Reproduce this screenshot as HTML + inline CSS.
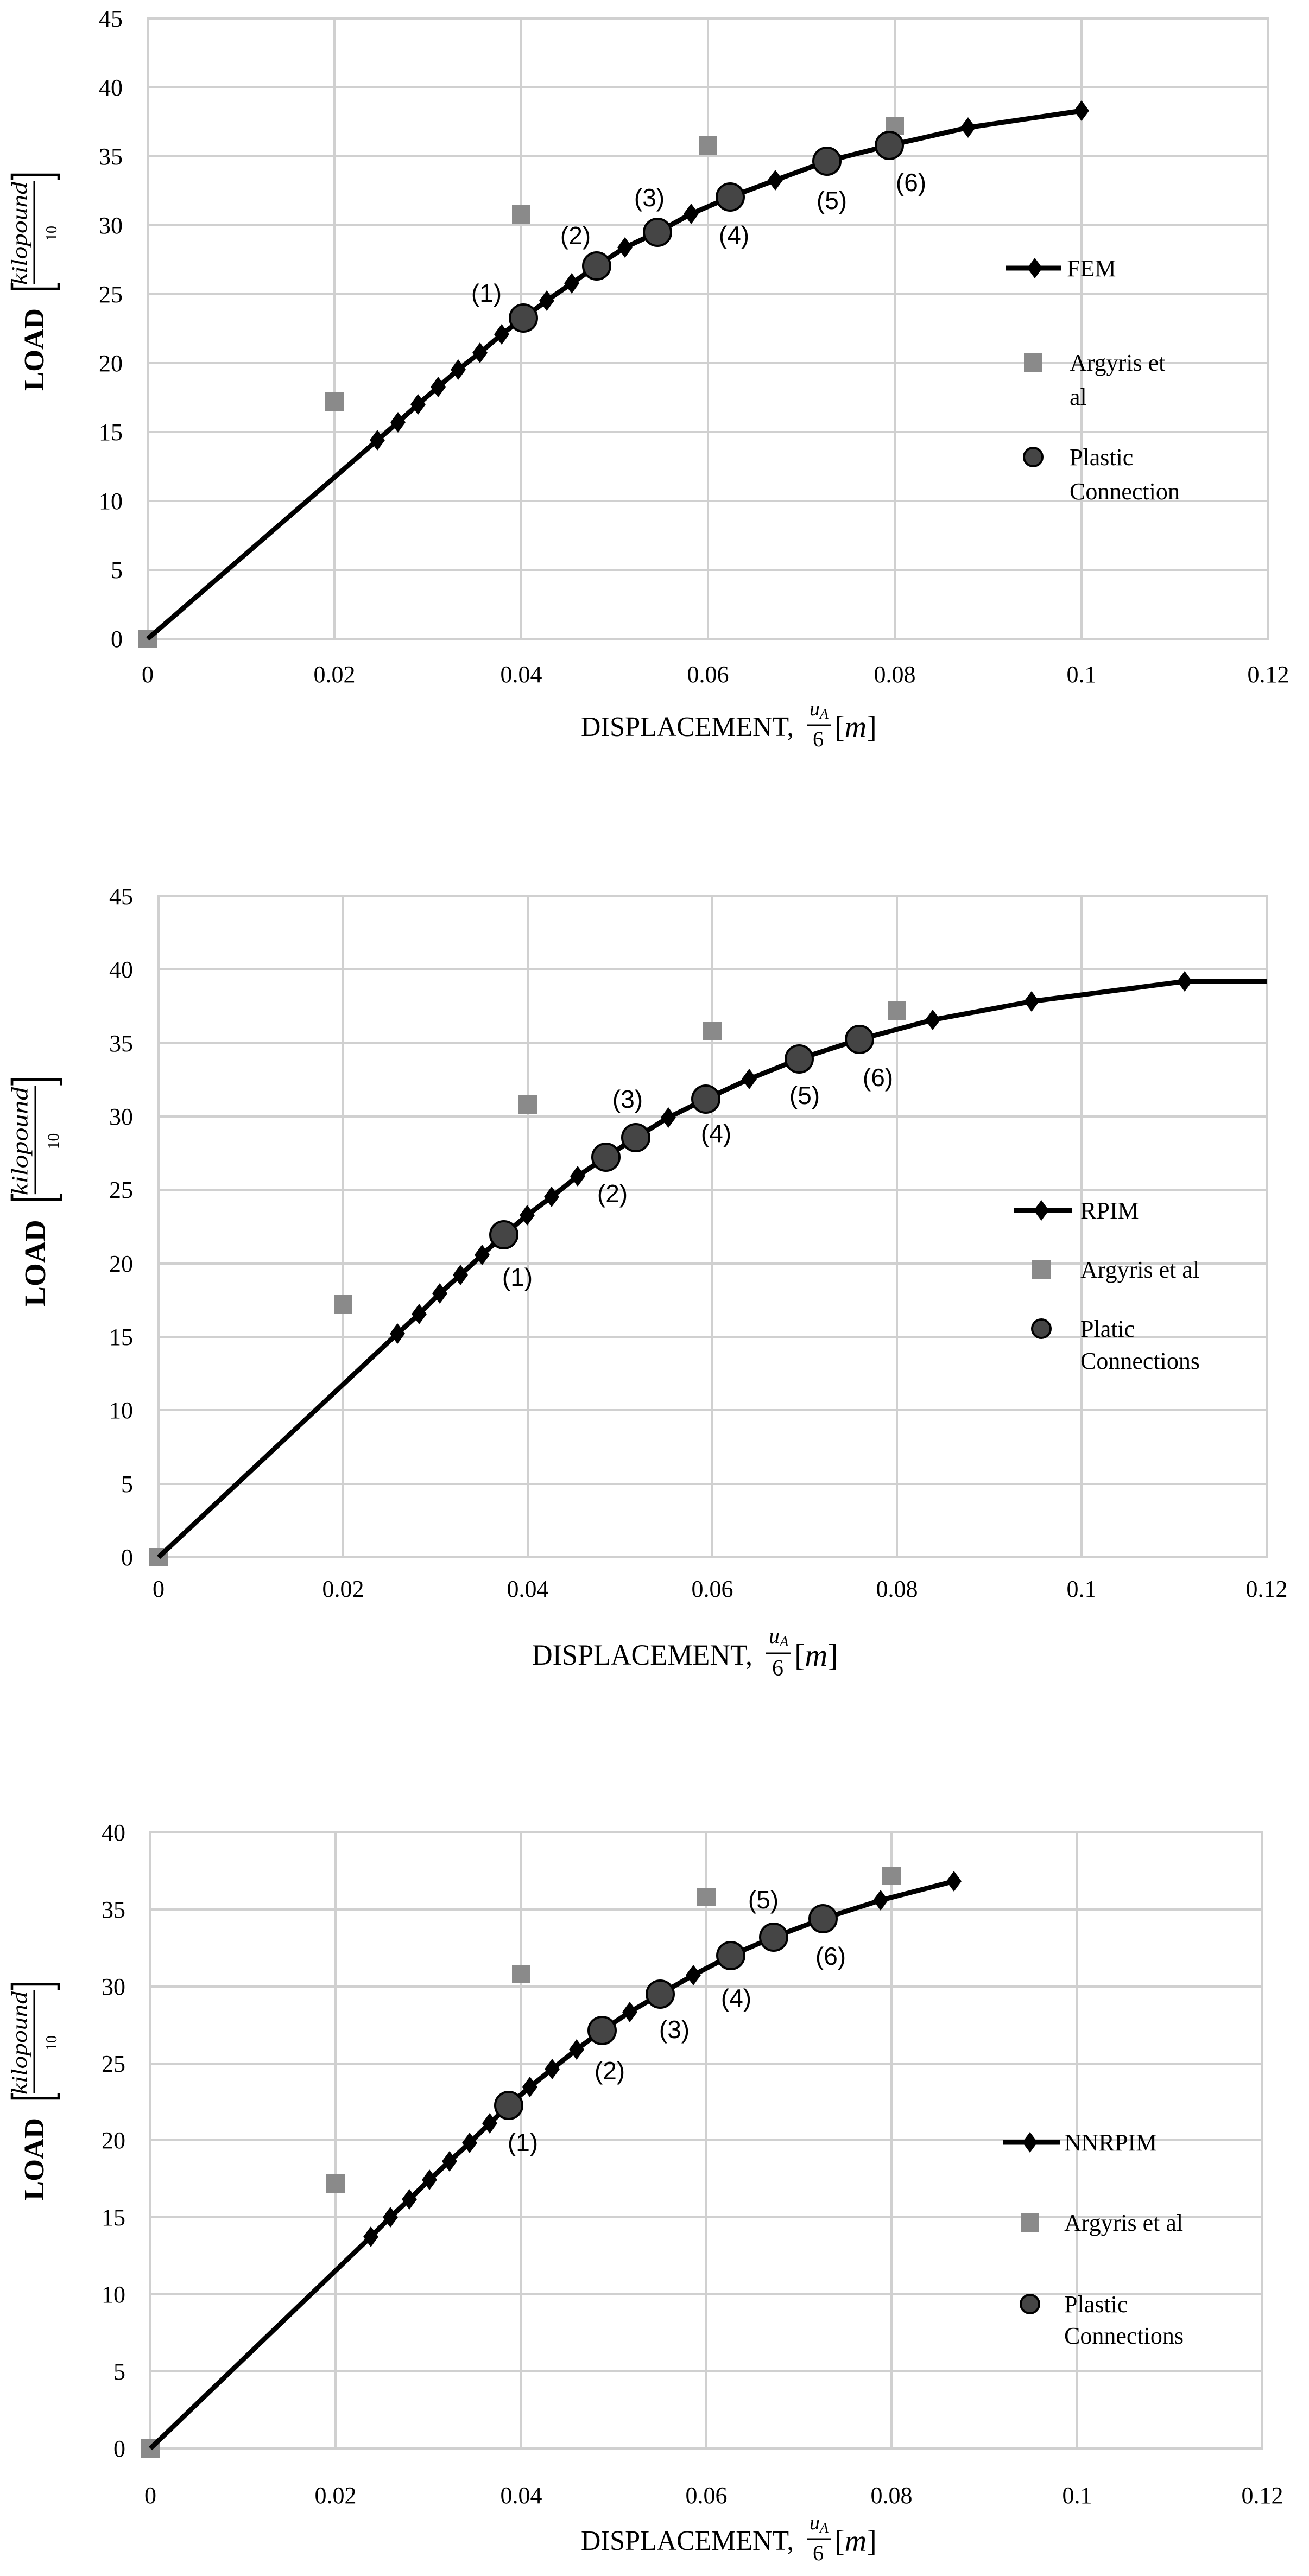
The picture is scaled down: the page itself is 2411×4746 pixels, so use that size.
<!DOCTYPE html>
<html><head><meta charset="utf-8"><style>
html,body{margin:0;padding:0;background:#fff;}
svg{display:block;}
.t{font-family:"Liberation Serif",serif;font-size:44px;fill:#000;}
.n{font-family:"Liberation Sans",sans-serif;font-size:46px;fill:#000;}
.g{stroke:#d0d0d0;stroke-width:4;fill:none;}
.s{stroke:#000;stroke-width:9;fill:none;stroke-linejoin:round;}
.c{fill:#454545;stroke:#000;stroke-width:4;}
.br{stroke:#000;stroke-width:4.5;fill:none;}
</style></head><body>
<svg width="2411" height="4746" viewBox="0 0 2411 4746" xmlns="http://www.w3.org/2000/svg">
<defs>
<path id="dm" d="M0,-19 L14,0 L0,19 L-14,0Z" fill="#000"/>
<rect id="sq" x="-17" y="-17" width="34" height="34" fill="#8a8a8a"/>
</defs>

<!-- ================= CHART 1 ================= -->
<g>
<g class="g">
<rect x="272" y="34" width="2064" height="1143"/>
<path d="M616,34V1177M960,34V1177M1304,34V1177M1648,34V1177M1992,34V1177"/>
<path d="M272,161H2336M272,288H2336M272,415H2336M272,542H2336M272,669H2336M272,796H2336M272,923H2336M272,1050H2336"/>
</g>
<g class="t" text-anchor="end">
<text x="226" y="49">45</text><text x="226" y="176">40</text><text x="226" y="303">35</text><text x="226" y="430">30</text><text x="226" y="557">25</text><text x="226" y="684">20</text><text x="226" y="811">15</text><text x="226" y="938">10</text><text x="226" y="1065">5</text><text x="226" y="1192">0</text>
</g>
<g class="t" text-anchor="middle">
<text x="272" y="1257">0</text><text x="616" y="1257">0.02</text><text x="960" y="1257">0.04</text><text x="1304" y="1257">0.06</text><text x="1648" y="1257">0.08</text><text x="1992" y="1257">0.1</text><text x="2336" y="1257">0.12</text>
</g>
<use href="#sq" x="272" y="1177"/><use href="#sq" x="616" y="740"/><use href="#sq" x="960" y="395"/><use href="#sq" x="1304" y="268"/><use href="#sq" x="1648" y="232"/>
<polyline class="s" points="272,1177 695,811 733,778 770,745 807,713 844,681 884,650 924,616 964,586 1007,554 1053,522 1099,490 1151,456 1211,428 1273,394 1345,363 1428,332 1523,297 1638,268 1783,235 1992,204"/>
<use href="#dm" x="695" y="811"/><use href="#dm" x="733" y="778"/><use href="#dm" x="770" y="745"/><use href="#dm" x="807" y="713"/><use href="#dm" x="844" y="681"/><use href="#dm" x="884" y="650"/><use href="#dm" x="924" y="616"/><use href="#dm" x="1007" y="554"/><use href="#dm" x="1053" y="522"/><use href="#dm" x="1151" y="456"/><use href="#dm" x="1273" y="394"/><use href="#dm" x="1428" y="332"/><use href="#dm" x="1783" y="235"/><use href="#dm" x="1992" y="204"/>
<circle class="c" cx="964" cy="586" r="25"/><circle class="c" cx="1099" cy="490" r="25"/><circle class="c" cx="1211" cy="428" r="25"/><circle class="c" cx="1345" cy="363" r="25"/><circle class="c" cx="1523" cy="297" r="25"/><circle class="c" cx="1638" cy="268" r="25"/>
<g class="n" text-anchor="middle">
<text x="896" y="556">(1)</text><text x="1060" y="450">(2)</text><text x="1196" y="380">(3)</text><text x="1352" y="449">(4)</text><text x="1532" y="385">(5)</text><text x="1678" y="352">(6)</text>
</g>
<line x1="1852" y1="494" x2="1955" y2="494" stroke="#000" stroke-width="9"/><use href="#dm" x="1906" y="494"/>
<text class="t" x="1965" y="509">FEM</text>
<use href="#sq" x="1903" y="668"/>
<text class="t" x="1970" y="683">Argyris et</text><text class="t" x="1970" y="746">al</text>
<circle class="c" cx="1903" cy="842" r="17"/>
<text class="t" x="1970" y="857">Plastic</text><text class="t" x="1970" y="920">Connection</text>
<g>
<text class="t" x="1070" y="1356" style="font-size:52px" textLength="392" lengthAdjust="spacingAndGlyphs">DISPLACEMENT,</text>
<text class="t" x="1491" y="1318" style="font-size:38px;font-style:italic">u<tspan style="font-size:26px" dy="6">A</tspan></text>
<line x1="1486" y1="1336" x2="1530" y2="1336" stroke="#000" stroke-width="3"/>
<text class="t" x="1497" y="1375" style="font-size:40px">6</text>
<text class="t" x="1537" y="1358" style="font-size:56px">[<tspan style="font-style:italic">m</tspan>]</text>
</g>
<g transform="translate(61,520) rotate(-90)">
<text class="t" x="-200" y="19" style="font-size:52px;font-weight:bold" textLength="152" lengthAdjust="spacingAndGlyphs">LOAD</text>
<path class="br" d="M-2,-39 H-12 V47 H-2 M188,-39 H198 V47 H188"/>
<text class="t" x="-5" y="-12" style="font-size:40px;font-style:italic" textLength="190" lengthAdjust="spacingAndGlyphs">kilopound</text>
<line x1="-3" y1="2" x2="187" y2="2" stroke="#000" stroke-width="3"/>
<text class="t" x="90" y="43" text-anchor="middle" style="font-size:28px">10</text>
</g>
</g>

<!-- ================= CHART 2 ================= -->
<g>
<g class="g">
<rect x="292" y="1651" width="2041" height="1218"/>
<path d="M632,1651V2869M972,1651V2869M1312,1651V2869M1652,1651V2869M1992,1651V2869"/>
<path d="M292,1786H2333M292,1922H2333M292,2057H2333M292,2192H2333M292,2328H2333M292,2463H2333M292,2598H2333M292,2734H2333"/>
</g>
<g class="t" text-anchor="end">
<text x="245" y="1666">45</text><text x="245" y="1801">40</text><text x="245" y="1937">35</text><text x="245" y="2072">30</text><text x="245" y="2207">25</text><text x="245" y="2343">20</text><text x="245" y="2478">15</text><text x="245" y="2613">10</text><text x="245" y="2749">5</text><text x="245" y="2884">0</text>
</g>
<g class="t" text-anchor="middle">
<text x="292" y="2942">0</text><text x="632" y="2942">0.02</text><text x="972" y="2942">0.04</text><text x="1312" y="2942">0.06</text><text x="1652" y="2942">0.08</text><text x="1992" y="2942">0.1</text><text x="2333" y="2942">0.12</text>
</g>
<use href="#sq" x="292" y="2869"/><use href="#sq" x="632" y="2403"/><use href="#sq" x="972" y="2035"/><use href="#sq" x="1312" y="1900"/><use href="#sq" x="1652" y="1862"/>
<polyline class="s" points="292,2869 732,2457 772,2421 810,2383 848,2349 888,2312 928,2275 971,2239 1016,2205 1064,2167 1116,2132 1171,2096 1231,2059 1300,2025 1380,1988 1472,1951 1583,1915 1718,1879 1900,1845 2182,1808 2333,1808"/>
<use href="#dm" x="732" y="2457"/><use href="#dm" x="772" y="2421"/><use href="#dm" x="810" y="2383"/><use href="#dm" x="848" y="2349"/><use href="#dm" x="888" y="2312"/><use href="#dm" x="971" y="2239"/><use href="#dm" x="1016" y="2205"/><use href="#dm" x="1064" y="2167"/><use href="#dm" x="1231" y="2059"/><use href="#dm" x="1380" y="1988"/><use href="#dm" x="1718" y="1879"/><use href="#dm" x="1900" y="1845"/><use href="#dm" x="2182" y="1808"/>
<circle class="c" cx="928" cy="2275" r="25"/><circle class="c" cx="1116" cy="2132" r="25"/><circle class="c" cx="1171" cy="2096" r="25"/><circle class="c" cx="1300" cy="2025" r="25"/><circle class="c" cx="1472" cy="1951" r="25"/><circle class="c" cx="1583" cy="1915" r="25"/>
<g class="n" text-anchor="middle">
<text x="953" y="2369">(1)</text><text x="1128" y="2215">(2)</text><text x="1156" y="2041">(3)</text><text x="1319" y="2104">(4)</text><text x="1482" y="2034">(5)</text><text x="1617" y="2001">(6)</text>
</g>
<line x1="1867" y1="2230" x2="1975" y2="2230" stroke="#000" stroke-width="9"/><use href="#dm" x="1918" y="2230"/>
<text class="t" x="1990" y="2245">RPIM</text>
<use href="#sq" x="1918" y="2339"/>
<text class="t" x="1990" y="2354">Argyris et al</text>
<circle class="c" cx="1918" cy="2448" r="17"/>
<text class="t" x="1990" y="2463">Platic</text><text class="t" x="1990" y="2522">Connections</text>
<g>
<text class="t" x="980" y="3067" style="font-size:54px" textLength="406" lengthAdjust="spacingAndGlyphs">DISPLACEMENT,</text>
<text class="t" x="1416" y="3027" style="font-size:40px;font-style:italic">u<tspan style="font-size:27px" dy="6">A</tspan></text>
<line x1="1411" y1="3046" x2="1456" y2="3046" stroke="#000" stroke-width="3"/>
<text class="t" x="1422" y="3087" style="font-size:42px">6</text>
<text class="t" x="1463" y="3069" style="font-size:58px">[<tspan style="font-style:italic">m</tspan>]</text>
</g>
<g transform="translate(63,2197) rotate(-90) scale(1.05)">
<text class="t" x="-200" y="19" style="font-size:52px;font-weight:bold" textLength="152" lengthAdjust="spacingAndGlyphs">LOAD</text>
<path class="br" d="M-2,-39 H-12 V47 H-2 M188,-39 H198 V47 H188"/>
<text class="t" x="-5" y="-12" style="font-size:40px;font-style:italic" textLength="190" lengthAdjust="spacingAndGlyphs">kilopound</text>
<line x1="-3" y1="2" x2="187" y2="2" stroke="#000" stroke-width="3"/>
<text class="t" x="90" y="43" text-anchor="middle" style="font-size:28px">10</text>
</g>
</g>

<!-- ================= CHART 3 ================= -->
<g>
<g class="g">
<rect x="277" y="3376" width="2048" height="1135"/>
<path d="M618,3376V4511M960,3376V4511M1301,3376V4511M1642,3376V4511M1984,3376V4511"/>
<path d="M277,3518H2325M277,3660H2325M277,3802H2325M277,3943H2325M277,4085H2325M277,4227H2325M277,4369H2325"/>
</g>
<g class="t" text-anchor="end">
<text x="231" y="3391">40</text><text x="231" y="3533">35</text><text x="231" y="3675">30</text><text x="231" y="3817">25</text><text x="231" y="3958">20</text><text x="231" y="4100">15</text><text x="231" y="4242">10</text><text x="231" y="4384">5</text><text x="231" y="4526">0</text>
</g>
<g class="t" text-anchor="middle">
<text x="277" y="4612">0</text><text x="618" y="4612">0.02</text><text x="960" y="4612">0.04</text><text x="1301" y="4612">0.06</text><text x="1642" y="4612">0.08</text><text x="1984" y="4612">0.1</text><text x="2325" y="4612">0.12</text>
</g>
<use href="#sq" x="277" y="4511"/><use href="#sq" x="618" y="4023"/><use href="#sq" x="960" y="3637"/><use href="#sq" x="1301" y="3495"/><use href="#sq" x="1642" y="3456"/>
<polyline class="s" points="277,4511 683,4121 719,4085 754,4052 791,4016 828,3982 865,3948 902,3912 937,3879 976,3845 1017,3812 1062,3776 1109,3741 1160,3707 1216,3674 1277,3639 1346,3603 1425,3569 1516,3535 1622,3501 1757,3466"/>
<use href="#dm" x="683" y="4121"/><use href="#dm" x="719" y="4085"/><use href="#dm" x="754" y="4052"/><use href="#dm" x="791" y="4016"/><use href="#dm" x="828" y="3982"/><use href="#dm" x="865" y="3948"/><use href="#dm" x="902" y="3912"/><use href="#dm" x="976" y="3845"/><use href="#dm" x="1017" y="3812"/><use href="#dm" x="1062" y="3776"/><use href="#dm" x="1160" y="3707"/><use href="#dm" x="1277" y="3639"/><use href="#dm" x="1622" y="3501"/><use href="#dm" x="1757" y="3466"/>
<circle class="c" cx="937" cy="3879" r="25"/><circle class="c" cx="1109" cy="3741" r="25"/><circle class="c" cx="1216" cy="3674" r="25"/><circle class="c" cx="1346" cy="3603" r="25"/><circle class="c" cx="1425" cy="3569" r="25"/><circle class="c" cx="1516" cy="3535" r="25"/>
<g class="n" text-anchor="middle">
<text x="963" y="3963">(1)</text><text x="1123" y="3831">(2)</text><text x="1242" y="3755">(3)</text><text x="1356" y="3697">(4)</text><text x="1406" y="3516">(5)</text><text x="1530" y="3620">(6)</text>
</g>
<line x1="1848" y1="3947" x2="1953" y2="3947" stroke="#000" stroke-width="9"/><use href="#dm" x="1897" y="3947"/>
<text class="t" x="1960" y="3962">NNRPIM</text>
<use href="#sq" x="1897" y="4095"/>
<text class="t" x="1960" y="4110">Argyris et al</text>
<circle class="c" cx="1897" cy="4245" r="17"/>
<text class="t" x="1960" y="4260">Plastic</text><text class="t" x="1960" y="4318">Connections</text>
<g>
<text class="t" x="1070" y="4698" style="font-size:52px" textLength="392" lengthAdjust="spacingAndGlyphs">DISPLACEMENT,</text>
<text class="t" x="1491" y="4660" style="font-size:38px;font-style:italic">u<tspan style="font-size:26px" dy="6">A</tspan></text>
<line x1="1486" y1="4678" x2="1530" y2="4678" stroke="#000" stroke-width="3"/>
<text class="t" x="1497" y="4717" style="font-size:40px">6</text>
<text class="t" x="1537" y="4700" style="font-size:56px">[<tspan style="font-style:italic">m</tspan>]</text>
</g>
<g transform="translate(61,3854) rotate(-90)">
<text class="t" x="-200" y="19" style="font-size:52px;font-weight:bold" textLength="152" lengthAdjust="spacingAndGlyphs">LOAD</text>
<path class="br" d="M-2,-39 H-12 V47 H-2 M188,-39 H198 V47 H188"/>
<text class="t" x="-5" y="-12" style="font-size:40px;font-style:italic" textLength="190" lengthAdjust="spacingAndGlyphs">kilopound</text>
<line x1="-3" y1="2" x2="187" y2="2" stroke="#000" stroke-width="3"/>
<text class="t" x="90" y="43" text-anchor="middle" style="font-size:28px">10</text>
</g>
</g>
</svg>
</body></html>
